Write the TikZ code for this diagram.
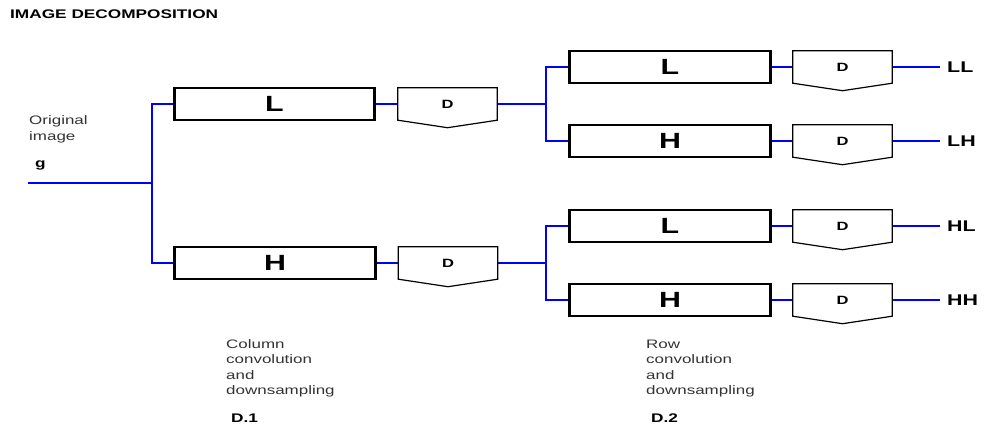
\documentclass[tikz,border=0pt]{standalone}
\usepackage{fontspec}
\setmainfont{Liberation Sans}
\newfontfamily\widefont[FakeStretch=1.38]{Liberation Sans}
\usetikzlibrary{calc}
\definecolor{wireblue}{RGB}{0,0,255}
\tikzset{
  filt/.style={draw=black, line width=1.8pt, fill=white, minimum width=199pt, minimum height=32pt, inner sep=0pt, font=\widefont\bfseries\fontsize{22}{22}\selectfont},
  dsbox/.style={minimum width=99pt, minimum height=32pt, inner sep=0pt, font=\widefont\bfseries\fontsize{12}{12}\selectfont},
  dsedge/.style={draw=black, line width=1.2pt},
  wire/.style={draw=wireblue, line width=1.9pt},
  txt/.style={anchor=base west, inner sep=0pt, font=\widefont\fontsize{12.3}{12.3}\selectfont, text=black!80},
  btxt/.style={anchor=base west, inner sep=0pt, font=\widefont\bfseries\fontsize{12.5}{12.5}\selectfont},
  outlbl/.style={anchor=west, inner sep=0pt, font=\widefont\bfseries\fontsize{15.5}{15.5}\selectfont},
}
\newcommand{\dshape}[1]{\draw[dsedge] (#1.north west) -- (#1.north east) -- (#1.south east) -- ($(#1.south)+(0,7.5)$) -- (#1.south west) -- cycle;}
\begin{document}
\begin{tikzpicture}[x=1pt,y=-1pt]
\useasboundingbox (0,0) rectangle (984,426);

% texts
\node[btxt] (title) at (10,18.5) {IMAGE DECOMPOSITION};
\node[txt] (orig1) at (29,124.5) {Original};
\node[txt] (orig2) at (29,140) {image};
\node[btxt] (g) at (35,167) {g};

\node[txt] (c1) at (226,348) {Column};
\node[txt] (c2) at (226,363.5) {convolution};
\node[txt] (c3) at (226,379) {and};
\node[txt] (c4) at (226,394.5) {downsampling};
\node[btxt] (d1) at (231,422) {D.1};

\node[txt] (r1) at (646,348) {Row};
\node[txt] (r2) at (646,363.5) {convolution};
\node[txt] (r3) at (646,379) {and};
\node[txt] (r4) at (646,394.5) {downsampling};
\node[btxt] (d2) at (651,422) {D.2};

% stage 1
\node[filt] (L1) at (274.5,104) {L};
\node[filt] (H1) at (275,263) {H};
\node[dsbox] (DL1) at (447.5,104) {};
\node[dsbox] (DH1) at (448,263) {};

% stage 2
\node[filt] (LL) at (670,67) {L};
\node[filt] (LH) at (670,141) {H};
\node[filt] (HL) at (670,226) {L};
\node[filt] (HH) at (670,300) {H};
\node[dsbox] (DLL) at (842.5,67) {};
\node[dsbox] (DLH) at (842.5,141) {};
\node[dsbox] (DHL) at (842.5,226) {};
\node[dsbox] (DHH) at (842.5,300) {};

% outputs
\node[outlbl] (oLL) at (947,67) {LL};
\node[outlbl] (oLH) at (947,141) {LH};
\node[outlbl] (oHL) at (947,226) {HL};
\node[outlbl] (oHH) at (947,300) {HH};

\coordinate (in) at (28,183);
\coordinate (s1) at (152,183);
\coordinate (s2a) at (546,104);
\coordinate (s2b) at (546,263);

% wires
\draw[wire] (in) -- (s1);
\draw[wire] (s1) |- (L1.west);
\draw[wire] (s1) |- (H1.west);
\draw[wire] (L1.east) -- (DL1.west);
\draw[wire] (H1.east) -- (DH1.west);
\draw[wire] (DL1.east) -- (s2a);
\draw[wire] (DH1.east) -- (s2b);
\draw[wire] (s2a) |- (LL.west);
\draw[wire] (s2a) |- (LH.west);
\draw[wire] (s2b) |- (HL.west);
\draw[wire] (s2b) |- (HH.west);
\foreach \a in {LL,LH,HL,HH}{
  \draw[wire] (\a.east) -- (D\a.west);
  \draw[wire] (D\a.east) -- ($(o\a.west)+(-7,0)$);
}

% redraw filter boxes on top
\foreach \b/\t in {L1/L,H1/H,LL/L,LH/H,HL/L,HH/H}{
  \node[filt] at (\b) {\t};
  \draw[line width=3pt] (\b.north west) -- (\b.south west);
  \draw[line width=3pt] (\b.north east) -- (\b.south east);
}
% downsampler shapes
\foreach \d in {DL1,DH1,DLL,DLH,DHL,DHH}{
  \dshape{\d}
  \node[dsbox] at (\d) {D};
}
\end{tikzpicture}
\end{document}
